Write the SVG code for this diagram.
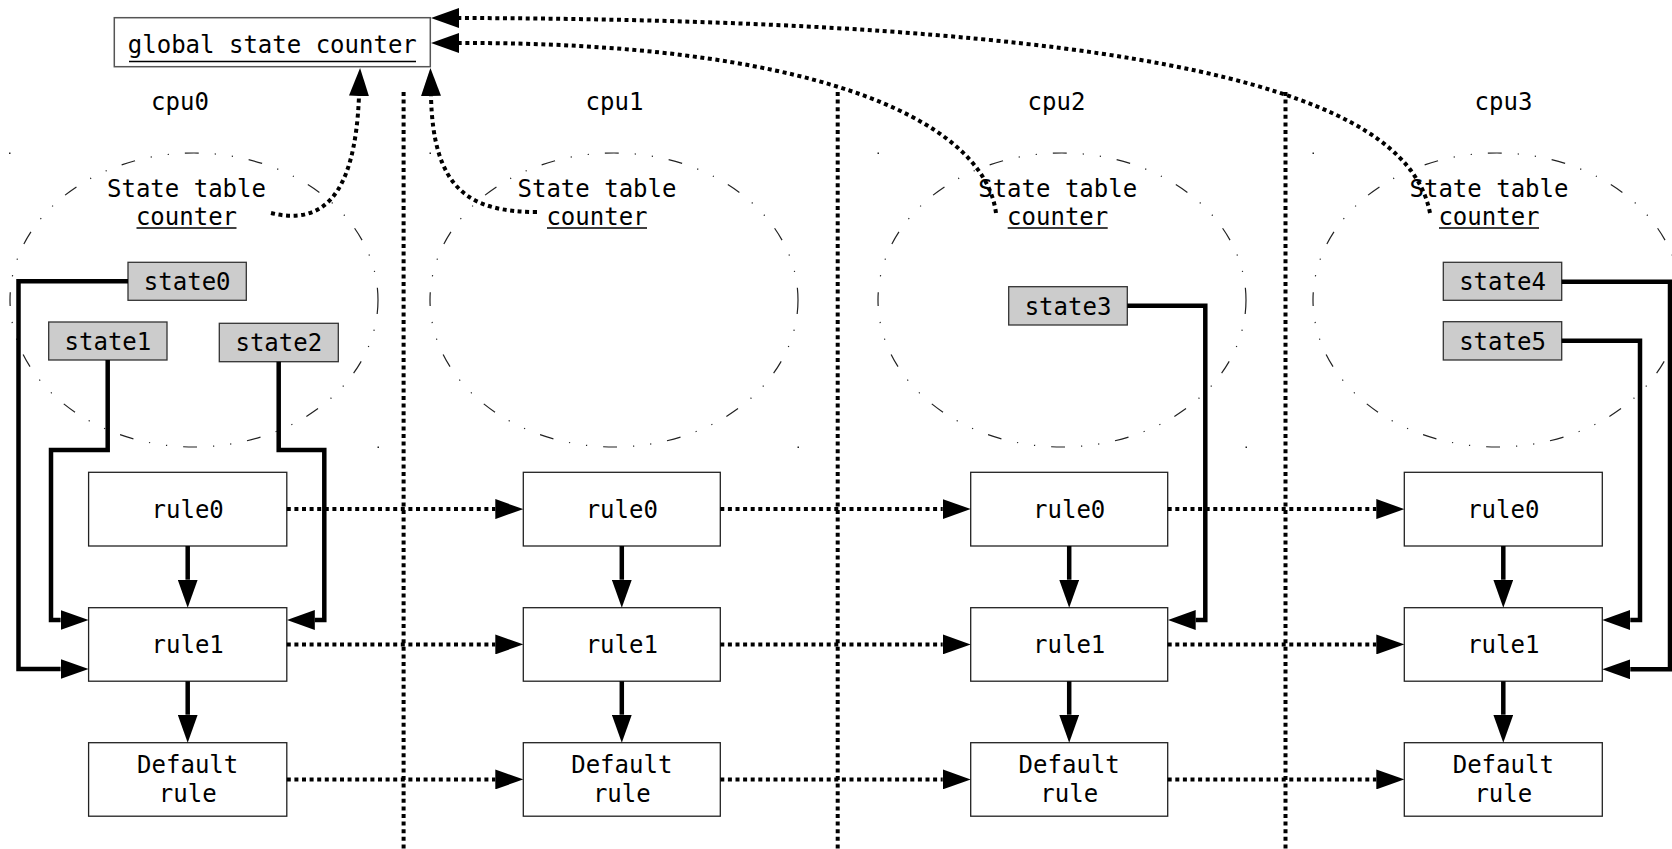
<svg xmlns="http://www.w3.org/2000/svg" width="1672" height="849" viewBox="0 0 1672 849">
  <style>
    text { font-family: "DejaVu Sans Mono", "Liberation Mono", monospace; font-size: 24px; fill: #000; }
    .mid { text-anchor: middle; }
    .rule { fill: #fff; stroke: #222; stroke-width: 1.3; }
    .state { fill: #cccccc; stroke: #333; stroke-width: 1.3; }
    .gbox { fill: #fff; stroke: #555; stroke-width: 1.5; }
    .table { fill: none; stroke: #222; stroke-width: 1.2; stroke-dasharray: 14 16 1.2 16 1.2 16; }
    .corner { fill: #222; }
    .ul { stroke: #000; stroke-width: 1.5; }
    .solid { fill: none; stroke: #000; stroke-width: 4.5; stroke-linejoin: miter; }
    .dot { fill: none; stroke: #000; stroke-width: 4; stroke-dasharray: 4 3.6; }
    .arrow { marker-end: url(#ah); }
  </style>
  <defs>
    <marker id="ah" viewBox="0 0 28 20" refX="0" refY="10" markerWidth="28" markerHeight="20" markerUnits="userSpaceOnUse" orient="auto">
      <path d="M0,0 L28,10 L0,20 Z" fill="#000"/>
    </marker>
  </defs>

  <!-- CPU separators -->
  <g id="separators">
    <line class="dot" x1="403.6" y1="92" x2="403.6" y2="849"/>
    <line class="dot" x1="837.7" y1="92" x2="837.7" y2="849"/>
    <line class="dot" x1="1285.5" y1="92" x2="1285.5" y2="849"/>
  </g>

  <!-- CPU column titles -->
  <g id="cpu-labels">
    <text class="mid" x="180" y="110">cpu0</text>
    <text class="mid" x="614.5" y="110">cpu1</text>
    <text class="mid" x="1056.5" y="110">cpu2</text>
    <text class="mid" x="1503.5" y="110">cpu3</text>
  </g>

  <!-- per-CPU state tables -->
  <g id="table-cpu0">
    <ellipse class="table" cx="194" cy="300" rx="184" ry="147"/>
    <rect class="corner" x="9" y="152.5" width="1.5" height="1.5"/>
    <rect class="corner" x="377.5" y="446.5" width="1.5" height="1.5"/>
    <text class="mid" x="186.5" y="196.7">State table</text>
    <text class="mid" x="186.5" y="225">counter</text>
    <line class="ul" x1="136.5" y1="228" x2="236.5" y2="228"/>
  </g>
  <g id="table-cpu1">
    <ellipse class="table" cx="614" cy="300" rx="184" ry="147"/>
    <rect class="corner" x="429.5" y="152.5" width="1.5" height="1.5"/>
    <rect class="corner" x="797.5" y="446.5" width="1.5" height="1.5"/>
    <text class="mid" x="597" y="196.7">State table</text>
    <text class="mid" x="597" y="225">counter</text>
    <line class="ul" x1="547" y1="228" x2="647" y2="228"/>
  </g>
  <g id="table-cpu2">
    <ellipse class="table" cx="1062" cy="300" rx="184" ry="147"/>
    <rect class="corner" x="877.5" y="152.5" width="1.5" height="1.5"/>
    <rect class="corner" x="1245.5" y="446.5" width="1.5" height="1.5"/>
    <text class="mid" x="1057.7" y="196.7">State table</text>
    <text class="mid" x="1057.7" y="225">counter</text>
    <line class="ul" x1="1007.7" y1="228" x2="1107.7" y2="228"/>
  </g>
  <g id="table-cpu3">
    <ellipse class="table" cx="1497" cy="300" rx="184" ry="147"/>
    <rect class="corner" x="1312.5" y="152.5" width="1.5" height="1.5"/>
    <text class="mid" x="1489" y="196.7">State table</text>
    <text class="mid" x="1489" y="225">counter</text>
    <line class="ul" x1="1439" y1="228" x2="1539" y2="228"/>
  </g>

  <!-- global counter -->
  <g id="global-counter">
    <rect class="gbox" x="114.3" y="17.7" width="316" height="49"/>
    <text class="mid" x="272.3" y="53">global state counter</text>
    <line class="ul" x1="129" y1="61.5" x2="416" y2="61.5"/>
  </g>

  <!-- state entries -->
  <g id="state0"><rect class="state" x="128" y="262.3" width="118.3" height="38"/><text class="mid" x="187.2" y="290">state0</text></g>
  <g id="state1"><rect class="state" x="48.7" y="322" width="118.3" height="38"/><text class="mid" x="107.9" y="349.7">state1</text></g>
  <g id="state2"><rect class="state" x="219.3" y="323.3" width="119" height="38.4"/><text class="mid" x="278.8" y="351.2">state2</text></g>
  <g id="state3"><rect class="state" x="1008.7" y="286.7" width="118.6" height="38.3"/><text class="mid" x="1068" y="314.5">state3</text></g>
  <g id="state4"><rect class="state" x="1443.3" y="262.3" width="118.4" height="38"/><text class="mid" x="1502.5" y="290">state4</text></g>
  <g id="state5"><rect class="state" x="1443.3" y="321.7" width="118.4" height="38.3"/><text class="mid" x="1502.5" y="349.5">state5</text></g>

  <!-- rule chains -->
  <g id="cpu0-rule0"><rect class="rule" x="88.6" y="472.3" width="198.2" height="73.7"/><text class="mid" x="187.7" y="517.6">rule0</text></g>
  <g id="cpu0-rule1"><rect class="rule" x="88.6" y="607.7" width="198.2" height="73.5"/><text class="mid" x="187.7" y="653">rule1</text></g>
  <g id="cpu0-default"><rect class="rule" x="88.6" y="742.7" width="198.2" height="73.5"/><text class="mid" x="187.7" y="773.3">Default</text><text class="mid" x="187.7" y="801.7">rule</text></g>

  <g id="cpu1-rule0"><rect class="rule" x="523.3" y="472.3" width="197" height="73.7"/><text class="mid" x="621.8" y="517.6">rule0</text></g>
  <g id="cpu1-rule1"><rect class="rule" x="523.3" y="607.7" width="197" height="73.5"/><text class="mid" x="621.8" y="653">rule1</text></g>
  <g id="cpu1-default"><rect class="rule" x="523.3" y="742.7" width="197" height="73.5"/><text class="mid" x="621.8" y="773.3">Default</text><text class="mid" x="621.8" y="801.7">rule</text></g>

  <g id="cpu2-rule0"><rect class="rule" x="970.7" y="472.3" width="197" height="73.7"/><text class="mid" x="1069.2" y="517.6">rule0</text></g>
  <g id="cpu2-rule1"><rect class="rule" x="970.7" y="607.7" width="197" height="73.5"/><text class="mid" x="1069.2" y="653">rule1</text></g>
  <g id="cpu2-default"><rect class="rule" x="970.7" y="742.7" width="197" height="73.5"/><text class="mid" x="1069.2" y="773.3">Default</text><text class="mid" x="1069.2" y="801.7">rule</text></g>

  <g id="cpu3-rule0"><rect class="rule" x="1404.3" y="472.3" width="198" height="73.7"/><text class="mid" x="1503.3" y="517.6">rule0</text></g>
  <g id="cpu3-rule1"><rect class="rule" x="1404.3" y="607.7" width="198" height="73.5"/><text class="mid" x="1503.3" y="653">rule1</text></g>
  <g id="cpu3-default"><rect class="rule" x="1404.3" y="742.7" width="198" height="73.5"/><text class="mid" x="1503.3" y="773.3">Default</text><text class="mid" x="1503.3" y="801.7">rule</text></g>

  <!-- connectors -->
  <g id="connectors">
    <!-- state entries into rule1 -->
    <path class="solid arrow" d="M128 281.3 H18.5 V669 H60.6"/>
    <path class="solid arrow" d="M107.7 360 V450 H51 V620 H60.6"/>
    <path class="solid arrow" d="M278.7 361.7 V450 H324.3 V620 H314.8"/>
    <path class="solid arrow" d="M1127.3 305.7 H1205.3 V620 H1195.7"/>
    <path class="solid arrow" d="M1561.7 281.7 H1670 V669.3 H1630.3"/>
    <path class="solid arrow" d="M1561.7 340.7 H1640 V620 H1630.3"/>

    <!-- rule0 -> rule1 -> default within each CPU -->
    <path class="solid arrow" d="M187.7 546 V579.7"/>
    <path class="solid arrow" d="M187.7 681.2 V714.7"/>
    <path class="solid arrow" d="M621.8 546 V579.7"/>
    <path class="solid arrow" d="M621.8 681.2 V714.7"/>
    <path class="solid arrow" d="M1069.2 546 V579.7"/>
    <path class="solid arrow" d="M1069.2 681.2 V714.7"/>
    <path class="solid arrow" d="M1503.3 546 V579.7"/>
    <path class="solid arrow" d="M1503.3 681.2 V714.7"/>

    <!-- rule rows across CPUs -->
    <path class="dot arrow" d="M286.8 509.1 H495.3"/>
    <path class="dot arrow" d="M720.3 509.1 H942.7"/>
    <path class="dot arrow" d="M1167.7 509.1 H1376.3"/>
    <path class="dot arrow" d="M286.8 644.4 H495.3"/>
    <path class="dot arrow" d="M720.3 644.4 H942.7"/>
    <path class="dot arrow" d="M1167.7 644.4 H1376.3"/>
    <path class="dot arrow" d="M286.8 779.4 H495.3"/>
    <path class="dot arrow" d="M720.3 779.4 H942.7"/>
    <path class="dot arrow" d="M1167.7 779.4 H1376.3"/>

    <!-- per-CPU counters folded into the global counter -->
    <path class="dot arrow" d="M271 213 C320 225 355 200 359 96"/>
    <path class="dot arrow" d="M537 212 C470 212 433 190 431 96"/>
    <path class="dot arrow" d="M996 213 C983 115 800 42 459 43"/>
    <path class="dot arrow" d="M1430 213 C1410 110 1230 20 459 18"/>
  </g>
</svg>
